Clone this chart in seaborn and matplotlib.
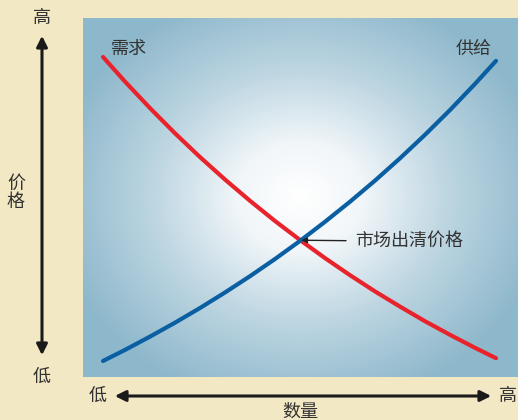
import numpy as np
import pandas as pd
import matplotlib
matplotlib.use("Agg")
import matplotlib.pyplot as plt
from matplotlib.colors import LinearSegmentedColormap
import seaborn as sns

# ---- data (quantity / price on a 0..100 scale) ----
quantity = [4.6, 9.66, 15.40, 21.15, 26.90, 32.64, 38.39, 44.14, 49.89,
            55.63, 61.38, 67.13, 72.87, 78.62, 84.37, 90.11, 94.94]
demand_p = [89.14, 82.28, 74.90, 67.88, 61.25, 55.01, 49.08, 43.45, 38.16,
            33.12, 28.36, 23.84, 19.61, 15.54, 11.75, 8.13, 5.24]
supply_p = [4.46, 7.55, 11.25, 15.13, 19.22, 23.54, 28.08, 32.87, 37.91,
            43.23, 48.83, 54.71, 60.92, 67.47, 74.37, 81.64, 88.05]
equilibrium = (49.89, 38.1)
curve_labels = ["需求", "供给"]
eq_label = "市场出清价格"
axis_labels = ["价格", "数量"]
end_labels = ["低", "高"]

sns.set_theme(style="white")
plt.rcParams['font.family'] = ['Noto Sans CJK SC', 'DejaVu Sans']

BG = "#f2e8c4"
TXT = "#333333"
FS = 13
W, H = 518, 420
fig = plt.figure(figsize=(W / 100, H / 100), dpi=100, facecolor=BG)
ax = fig.add_axes([83 / W, (H - 377) / H, 435 / W, 359 / H])

# radial gradient background
nx, ny = 435, 359
xx, yy = np.meshgrid(np.arange(nx), np.arange(ny))
cx, cy = 217, 180
r = np.sqrt(((xx - cx) / 250.0) ** 2 + ((yy - cy) / 215.0) ** 2)
r = np.clip(r, 0, 1)
cmap = LinearSegmentedColormap.from_list(
    "bg", [(0, "#ffffff"), (0.25, "#f1f6f9"), (0.6, "#bcd5e1"), (1.0, "#8db7cb")])
ax.imshow(r, cmap=cmap, vmin=0, vmax=1, extent=[0, 100, 100, 0],
          aspect="auto", zorder=0, interpolation="bilinear")

df = pd.concat([
    pd.DataFrame({"q": quantity, "p": demand_p, "curve": curve_labels[0]}),
    pd.DataFrame({"q": quantity, "p": supply_p, "curve": curve_labels[1]}),
])
sns.lineplot(data=df, x="q", y="p", hue="curve", sort=False,
             palette={curve_labels[0]: "#e8232b", curve_labels[1]: "#0a5fa3"},
             linewidth=3.0, legend=False, ax=ax, zorder=3)
ax.set_xlim(0, 100)
ax.set_ylim(0, 100)

ax.text(10.6, 91.4, curve_labels[0], fontsize=FS, color=TXT, ha="center", va="center")
ax.text(89.9, 91.4, curve_labels[1], fontsize=FS, color=TXT, ha="center", va="center")
ax.annotate(eq_label, xy=equilibrium, xytext=(62.5, equilibrium[1] - 0.3),
            fontsize=FS, color=TXT, va="center", ha="left",
            arrowprops=dict(arrowstyle="-|>", color="#222222", lw=1.0,
                            mutation_scale=8, shrinkA=4, shrinkB=1))

ax.set_xlabel("")
ax.set_ylabel("")
ax.set_xticks([])
ax.set_yticks([])
for s in ax.spines.values():
    s.set_visible(False)

# axis arrows outside the plot (figure pixel coords, origin bottom-left)
def fp(x, y):
    return (x, H - y)

fig.add_artist(matplotlib.patches.FancyArrowPatch(
    fp(42, 358), fp(42, 33), transform=None, arrowstyle="<|-|>",
    mutation_scale=16, lw=2.2, color="#1a1a1a"))
fig.add_artist(matplotlib.patches.FancyArrowPatch(
    fp(112, 396), fp(494, 396), transform=None, arrowstyle="<|-|>",
    mutation_scale=16, lw=2.2, color="#1a1a1a"))

fig.text(42 / W, 1 - 18 / H, end_labels[1], fontsize=FS, color=TXT, ha="center", va="center")
fig.text(42 / W, 1 - 377 / H, end_labels[0], fontsize=FS, color=TXT, ha="center", va="center")
fig.text(16 / W, 1 - 193 / H, "\n".join(axis_labels[0]), fontsize=FS, color=TXT,
         ha="center", va="center", linespacing=1.05)
fig.text(98 / W, 1 - 396 / H, end_labels[0], fontsize=FS, color=TXT, ha="center", va="center")
fig.text(508 / W, 1 - 396 / H, end_labels[1], fontsize=FS, color=TXT, ha="center", va="center")
fig.text(300 / W, 1 - 412 / H, axis_labels[1], fontsize=FS, color=TXT, ha="center", va="center")

fig.savefig("out.png", dpi=100, facecolor=BG)
